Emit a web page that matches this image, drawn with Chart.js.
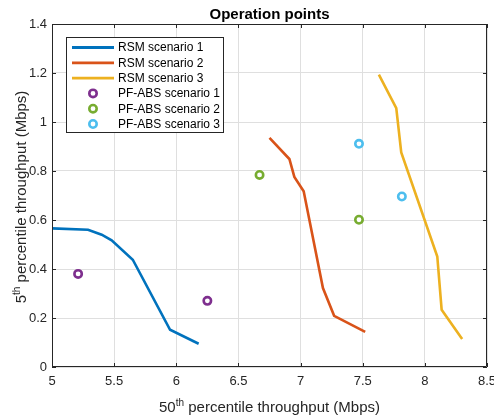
<!DOCTYPE html>
<html>
<head>
<meta charset="utf-8">
<script src="https://cdn.jsdelivr.net/npm/chart.js@4.4.0/dist/chart.umd.min.js"></script>
<style>
  html, body { margin: 0; padding: 0; background: #fff; }
  #wrap { width: 494px; height: 417px; }
</style>
</head>
<body>
<div id="wrap"><canvas id="chart_ops"></canvas></div>
<script>
// values
const rsm1_x = [5.0, 5.29, 5.40, 5.48, 5.65, 5.95, 6.18];
const rsm1_y = [0.566, 0.560, 0.540, 0.517, 0.438, 0.152, 0.095];
const rsm2_x = [6.75, 6.91, 6.95, 7.025, 7.18, 7.27, 7.52];
const rsm2_y = [0.935, 0.849, 0.776, 0.717, 0.322, 0.209, 0.143];
const rsm3_x = [7.63, 7.77, 7.81, 8.10, 8.135, 8.30];
const rsm3_y = [1.193, 1.057, 0.876, 0.451, 0.234, 0.114];
const abs1_x = [5.21, 6.25];
const abs1_y = [0.38, 0.27];
const abs2_x = [6.67, 7.47];
const abs2_y = [0.784, 0.601];
const abs3_x = [7.47, 7.815];
const abs3_y = [0.911, 0.696];

const x_ticks = [5, 5.5, 6, 6.5, 7, 7.5, 8, 8.5];
const y_ticks = [0, 0.2, 0.4, 0.6, 0.8, 1, 1.2, 1.4];

const FONT = '"Liberation Sans", Arial, Helvetica, sans-serif';

const pts = (xs, ys) => xs.map((x, i) => ({ x: x, y: ys[i] }));

const lineSet = (label, xs, ys, color) => ({
    label: label,
    data: pts(xs, ys),
    showLine: true,
    borderColor: color,
    backgroundColor: color,
    borderWidth: 2.6,
    pointRadius: 0,
    pointHoverRadius: 0,
    tension: 0,
});

const markSet = (label, xs, ys, color) => ({
    label: label,
    data: pts(xs, ys),
    showLine: false,
    borderColor: color,
    backgroundColor: '#ffffff',
    pointBorderColor: color,
    pointBackgroundColor: '#ffffff',
    pointBorderWidth: 2.6,
    pointRadius: 3.7,
});

const data = {
    datasets: [
        lineSet('RSM scenario 1', rsm1_x, rsm1_y, '#0072BD'),
        lineSet('RSM scenario 2', rsm2_x, rsm2_y, '#D95319'),
        lineSet('RSM scenario 3', rsm3_x, rsm3_y, '#EDB120'),
        markSet('PF-ABS scenario 1', abs1_x, abs1_y, '#7E2F8E'),
        markSet('PF-ABS scenario 2', abs2_x, abs2_y, '#77AC30'),
        markSet('PF-ABS scenario 3', abs3_x, abs3_y, '#4DBEEE'),
    ]
};

// title, axis labels with superscripts, inward ticks, box and legend
const matlabLook = {
    id: 'matlabLook',
    afterDraw(chart) {
        const ctx = chart.ctx;
        const a = chart.chartArea;
        const sx = chart.scales.x;
        const sy = chart.scales.y;
        ctx.save();

        // box + inward ticks
        ctx.strokeStyle = '#262626';
        ctx.lineWidth = 1;
        ctx.beginPath();
        ctx.rect(a.left + 0.5, a.top + 0.5, a.right - a.left - 1, a.bottom - a.top - 1);
        x_ticks.forEach((v) => {
            const px = Math.round(sx.getPixelForValue(v)) + 0.5;
            ctx.moveTo(px, a.bottom); ctx.lineTo(px, a.bottom - 4);
            ctx.moveTo(px, a.top); ctx.lineTo(px, a.top + 4);
        });
        y_ticks.forEach((v) => {
            const py = Math.round(sy.getPixelForValue(v)) + 0.5;
            ctx.moveTo(a.left, py); ctx.lineTo(a.left + 4, py);
            ctx.moveTo(a.right, py); ctx.lineTo(a.right - 4, py);
        });
        ctx.stroke();

        // title
        ctx.fillStyle = '#000';
        ctx.font = 'bold 15px ' + FONT;
        ctx.textAlign = 'center';
        ctx.textBaseline = 'alphabetic';
        ctx.fillText('Operation points', (a.left + a.right) / 2, 19);

        // axis label with a superscript part
        const supLabel = (base, sup, rest, cx, cy) => {
            ctx.font = '15px ' + FONT;
            const w1 = ctx.measureText(base).width;
            const w3 = ctx.measureText(rest).width;
            ctx.font = '10px ' + FONT;
            const w2 = ctx.measureText(sup).width;
            let x = cx - (w1 + w2 + w3) / 2;
            ctx.textAlign = 'left';
            ctx.font = '15px ' + FONT;
            ctx.fillStyle = '#262626';
            ctx.fillText(base, x, cy); x += w1;
            ctx.font = '10px ' + FONT;
            ctx.fillText(sup, x, cy - 6); x += w2;
            ctx.font = '15px ' + FONT;
            ctx.fillText(rest, x, cy);
        };
        supLabel('50', 'th', ' percentile throughput (Mbps)', (a.left + a.right) / 2, 412);
        ctx.save();
        ctx.translate(26, 197);
        ctx.rotate(-Math.PI / 2);
        supLabel('5', 'th', ' percentile throughput (Mbps)', 0, 0);
        ctx.restore();

        // legend
        const lx = 66, ly = 37, lw = 157, lh = 95;
        ctx.fillStyle = '#fff';
        ctx.fillRect(lx, ly, lw, lh);
        ctx.strokeStyle = '#262626';
        ctx.lineWidth = 1;
        ctx.strokeRect(lx + 0.5, ly + 0.5, lw, lh);
        ctx.font = '12px ' + FONT;
        ctx.textAlign = 'left';
        ctx.textBaseline = 'middle';
        chart.data.datasets.forEach((ds, i) => {
            const y = ly + 10.5 + i * 15.3;
            if (ds.showLine) {
                ctx.strokeStyle = ds.borderColor;
                ctx.lineWidth = 2.8;
                ctx.beginPath();
                ctx.moveTo(72, y); ctx.lineTo(114, y);
                ctx.stroke();
            } else {
                ctx.strokeStyle = ds.pointBorderColor;
                ctx.lineWidth = 2.6;
                ctx.beginPath();
                ctx.arc(93, y, 3.7, 0, Math.PI * 2);
                ctx.stroke();
            }
            ctx.fillStyle = '#000';
            ctx.fillText(ds.label, 118, y + 0.5);
        });
        ctx.restore();
    }
};

const options = {
    responsive: true,
    maintainAspectRatio: false,
    animation: false,
    layout: { padding: { left: 0, right: 7, top: 24, bottom: 0 } },
    plugins: {
        legend: { display: false },
        title: { display: false },
        tooltip: { enabled: false },
    },
    scales: {
        x: {
            type: 'linear',
            min: 5,
            max: 8.5,
            afterBuildTicks: (scale) => { scale.ticks = x_ticks.map((v) => ({ value: v })); },
            afterFit: (scale) => {
                scale.height = 50;
                scale.paddingLeft = 0;
                scale.paddingRight = 0;
            },
            ticks: {
                color: '#262626',
                font: { family: FONT, size: 13 },
                padding: 7,
                maxRotation: 0,
                callback: (v) => String(Math.round(v * 10) / 10),
            },
            grid: { color: '#dfdfdf', drawTicks: false },
            border: { display: false },
        },
        y: {
            type: 'linear',
            min: 0,
            max: 1.4,
            afterBuildTicks: (scale) => { scale.ticks = y_ticks.map((v) => ({ value: v })); },
            afterFit: (scale) => {
                scale.width = 52;
                scale.paddingTop = 0;
                scale.paddingBottom = 0;
            },
            ticks: {
                color: '#262626',
                font: { family: FONT, size: 13 },
                padding: 5,
                callback: (v) => String(Math.round(v * 10) / 10),
            },
            grid: { color: '#dfdfdf', drawTicks: false },
            border: { display: false },
        },
    }
};

const chart_ops = document.getElementById('chart_ops');
const chart = new Chart(chart_ops, {
    type: 'scatter',
    data: data,
    options: options,
    plugins: [matlabLook],
});
</script>
</body>
</html>
